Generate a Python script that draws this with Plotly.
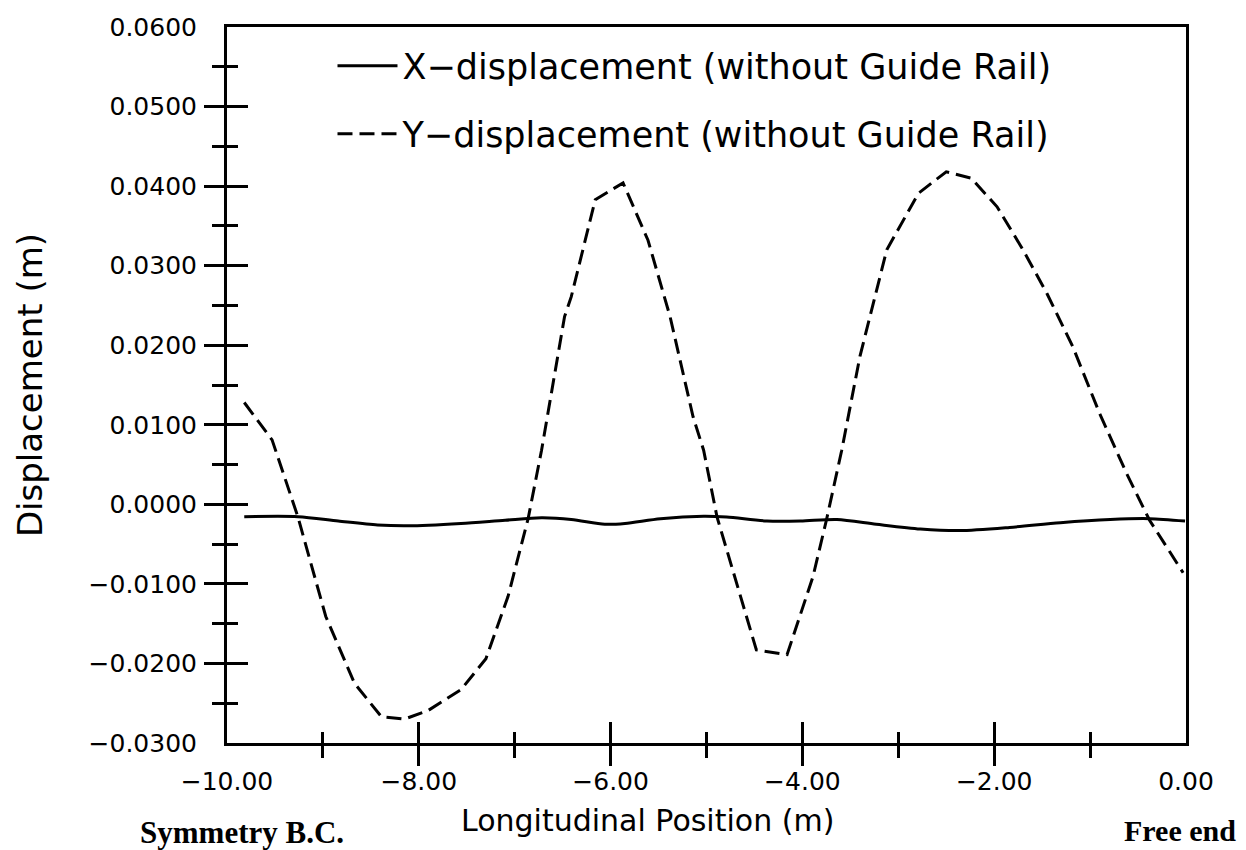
import plotly.graph_objects as go

# ---- data ----
x_disp_pos = [-9.82, -9.26, -8.84, -8.43, -8.11, -7.56, -7.10, -6.72, -6.41, -6.06,
              -5.85, -5.48, -5.03, -4.79, -4.37, -4.02, -3.64, -3.23, -2.77, -2.36,
              -1.84, -1.31, -0.79, -0.38, -0.01]
x_disp_val = [-0.00155, -0.00155, -0.0021, -0.0026, -0.0027, -0.0024, -0.0020, -0.0017, -0.0019, -0.0025,
              -0.0024, -0.0018, -0.0015, -0.0016, -0.0021, -0.0021, -0.0019, -0.0025, -0.0031, -0.0033,
              -0.0029, -0.0023, -0.0019, -0.0018, -0.0021]

y_disp_pos = [-9.82, -9.53, -9.26, -8.97, -8.67, -8.39, -8.15, -7.90, -7.56, -7.30,
              -7.07, -6.86, -6.72, -6.48, -6.41, -6.16, -5.87, -5.61, -5.38, -5.14,
              -5.03, -4.89, -4.48, -4.16, -3.89, -3.75, -3.59, -3.40, -3.12, -2.79,
              -2.50, -2.24, -1.97, -1.70, -1.45, -1.18, -0.90, -0.62, -0.38, -0.03]
y_disp_val = [0.0128, 0.0081, -0.0016, -0.0141, -0.0225, -0.0267, -0.0270, -0.0259, -0.0233, -0.0194,
              -0.0116, -0.0018, 0.0068, 0.0236, 0.0261, 0.0383, 0.0404, 0.0332, 0.0236, 0.0110,
              0.0068, -0.0016, -0.0183, -0.0189, -0.0091, -0.0020, 0.0068, 0.0186, 0.0320, 0.0391,
              0.0418, 0.0410, 0.0374, 0.0320, 0.0265, 0.0198, 0.0114, 0.0039, -0.0020, -0.0086]

x_major = [-10, -8, -6, -4, -2, 0]
x_labels = ["\u221210.00", "\u22128.00", "\u22126.00", "\u22124.00", "\u22122.00", "0.00"]
x_inner_major = [-8, -6, -4, -2]
x_minor = [-9, -7, -5, -3, -1]

y_major = [-0.03, -0.02, -0.01, 0.0, 0.01, 0.02, 0.03, 0.04, 0.05, 0.06]
y_labels = ["\u22120.0300", "\u22120.0200", "\u22120.0100", "0.0000", "0.0100",
            "0.0200", "0.0300", "0.0400", "0.0500", "0.0600"]
y_inner_major = [-0.02, -0.01, 0.0, 0.01, 0.02, 0.03, 0.04, 0.05]
y_minor = [-0.025, -0.015, -0.005, 0.005, 0.015, 0.025, 0.035, 0.045, 0.055]

FONT = "DejaVu Sans"
XR = [-10, 0]
YR = [-0.03, 0.06]

fig = go.Figure()
fig.add_trace(go.Scatter(x=x_disp_pos, y=x_disp_val, mode="lines",
                         name="X\u2212displacement (without Guide Rail)",
                         line=dict(color="black", width=3, shape="spline", smoothing=0.8),
                         legend="legend"))
fig.add_trace(go.Scatter(x=y_disp_pos, y=y_disp_val, mode="lines",
                         name="Y\u2212displacement (without Guide Rail)",
                         line=dict(color="black", width=3, dash="15px,7px"),
                         legend="legend2"))
# empty traces so the tick-only overlay axes are drawn
fig.add_trace(go.Scatter(x=[], y=[], xaxis="x2", yaxis="y2", showlegend=False))
fig.add_trace(go.Scatter(x=[], y=[], xaxis="x3", yaxis="y3", showlegend=False))

tickfont = dict(family=FONT, size=25, color="black")

fig.update_layout(
    width=1246, height=850,
    margin=dict(l=227, r=60, t=27, b=107),
    paper_bgcolor="white", plot_bgcolor="white",
    font=dict(family=FONT, color="black"),
    xaxis=dict(range=XR, tickmode="array", tickvals=x_major, ticktext=x_labels,
               ticks="outside", ticklen=14, tickcolor="rgba(0,0,0,0)",
               tickfont=tickfont, showgrid=False, zeroline=False,
               showline=True, linewidth=3, linecolor="black", mirror=True),
    yaxis=dict(range=YR, tickmode="array", tickvals=y_major, ticktext=y_labels,
               ticks="outside", ticklen=22, tickcolor="rgba(0,0,0,0)",
               tickfont=tickfont, showgrid=False, zeroline=False,
               showline=True, linewidth=3, linecolor="black", mirror=True,
               title=dict(text="Displacement (m)", font=dict(family=FONT, size=34), standoff=36)),
    xaxis2=dict(range=XR, overlaying="x", anchor="y2", side="bottom",
                tickmode="array", tickvals=x_inner_major, ticks="outside", ticklen=22,
                tickwidth=3, tickcolor="black", showticklabels=False,
                showgrid=False, zeroline=False, showline=False,
                minor=dict(tickmode="array", tickvals=x_minor, ticks="outside",
                           ticklen=14, tickwidth=3, tickcolor="black", showgrid=False)),
    yaxis2=dict(range=YR, overlaying="y", anchor="x2", side="left",
                tickmode="array", tickvals=y_inner_major, ticks="outside", ticklen=22,
                tickwidth=3, tickcolor="black", showticklabels=False,
                showgrid=False, zeroline=False, showline=False,
                minor=dict(tickmode="array", tickvals=y_minor, ticks="outside",
                           ticklen=14, tickwidth=3, tickcolor="black", showgrid=False)),
    xaxis3=dict(range=XR, overlaying="x", anchor="y3", side="bottom",
                tickmode="array", tickvals=x_inner_major, ticks="inside", ticklen=21,
                tickwidth=3, tickcolor="black", showticklabels=False,
                showgrid=False, zeroline=False, showline=False,
                minor=dict(tickmode="array", tickvals=x_minor, ticks="inside",
                           ticklen=11, tickwidth=3, tickcolor="black", showgrid=False)),
    yaxis3=dict(range=YR, overlaying="y", anchor="x3", side="left",
                tickmode="array", tickvals=y_inner_major, ticks="inside", ticklen=21,
                tickwidth=3, tickcolor="black", showticklabels=False,
                showgrid=False, zeroline=False, showline=False,
                minor=dict(tickmode="array", tickvals=y_minor, ticks="inside",
                           ticklen=11, tickwidth=3, tickcolor="black", showgrid=False)),
    legend=dict(x=0.11, y=0.9455, xanchor="left", yanchor="middle",
                bgcolor="rgba(0,0,0,0)", borderwidth=0, itemwidth=60,
                font=dict(family=FONT, size=35, color="black")),
    legend2=dict(x=0.11, y=0.8506, xanchor="left", yanchor="middle",
                 bgcolor="rgba(0,0,0,0)", borderwidth=0, itemwidth=60,
                 font=dict(family=FONT, size=35, color="black")),
    showlegend=True,
)

fig.add_annotation(text="Longitudinal Position (m)", xref="paper", yref="paper",
                   x=(647 - 227) / 959, y=-(820 - 743) / 716, xanchor="center", yanchor="middle",
                   showarrow=False, font=dict(family=FONT, size=30, color="black"))
fig.add_annotation(text="<b>Symmetry B.C.</b>", xref="paper", yref="paper",
                   x=(242 - 227) / 959, y=-(832 - 743) / 716, xanchor="center", yanchor="middle",
                   showarrow=False, font=dict(family="Liberation Serif", size=31, color="black"))
fig.add_annotation(text="<b>Free end</b>", xref="paper", yref="paper",
                   x=(1180 - 227) / 959, y=-(830 - 743) / 716, xanchor="center", yanchor="middle",
                   showarrow=False, font=dict(family="Liberation Serif", size=30, color="black"))

fig.write_html("out.html")
